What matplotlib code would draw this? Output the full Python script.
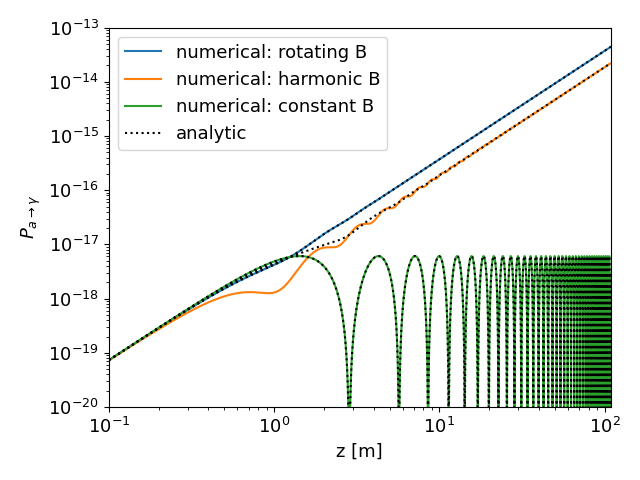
import numpy as np
import matplotlib
matplotlib.use('Agg')
import matplotlib.pyplot as plt

plt.rcParams['font.size'] = 13

# values
z_range = [0.1, 109.0]          # m, extent of the z axis
zero_spacing = 2.85             # m, distance between zeros of the constant-B curve
p_peak = 6.1e-18                # maximum of the constant-B curve
y_range = [1e-20, 1e-13]

labels = ['numerical: rotating B', 'numerical: harmonic B', 'numerical: constant B', 'analytic']

q = 2 * np.pi / zero_spacing
gB2 = p_peak * q**2


# conversion probability for the three field shapes
def prob_constant(z):
    return p_peak * np.sin(q * z / 2)**2


def prob_rotating(z):
    return gB2 / 8 * (z**2 + np.sin(q * z)**2 / q**2)


def prob_harmonic(z):
    return gB2 / 16 * (z**2 + z * np.sin(2 * q * z) / q + np.sin(q * z)**2 / q**2)


def prob_harmonic_analytic(z):
    return 0.5 * prob_rotating(z) + 0.5 * prob_constant(z)


z_num = np.logspace(np.log10(z_range[0]), np.log10(z_range[1]), 8000)
z_ana = np.concatenate([np.logspace(-1, 0, 400), np.linspace(1.0, z_range[1], 20000)])

fig, ax = plt.subplots(figsize=(6.4, 4.8), dpi=100)

ax.plot(z_num, prob_rotating(z_num), color='C0', label=labels[0])
ax.plot(z_num, prob_harmonic(z_num), color='C1', label=labels[1])
ax.plot(z_num, prob_constant(z_num), color='C2', label=labels[2])

ax.plot(z_ana, prob_rotating(z_ana), 'k:', label=labels[3])
ax.plot(z_ana, prob_harmonic_analytic(z_ana), 'k:')
ax.plot(z_ana, prob_constant(z_ana), 'k:')

ax.set_xscale('log')
ax.set_yscale('log')
ax.set_xlim(z_range)
ax.set_ylim(y_range)
ax.set_xlabel('z [m]')
ax.set_ylabel(r'$P_{a\rightarrow\gamma}$')
ax.legend(loc='upper left')

plt.tight_layout()
plt.savefig('out.png')
